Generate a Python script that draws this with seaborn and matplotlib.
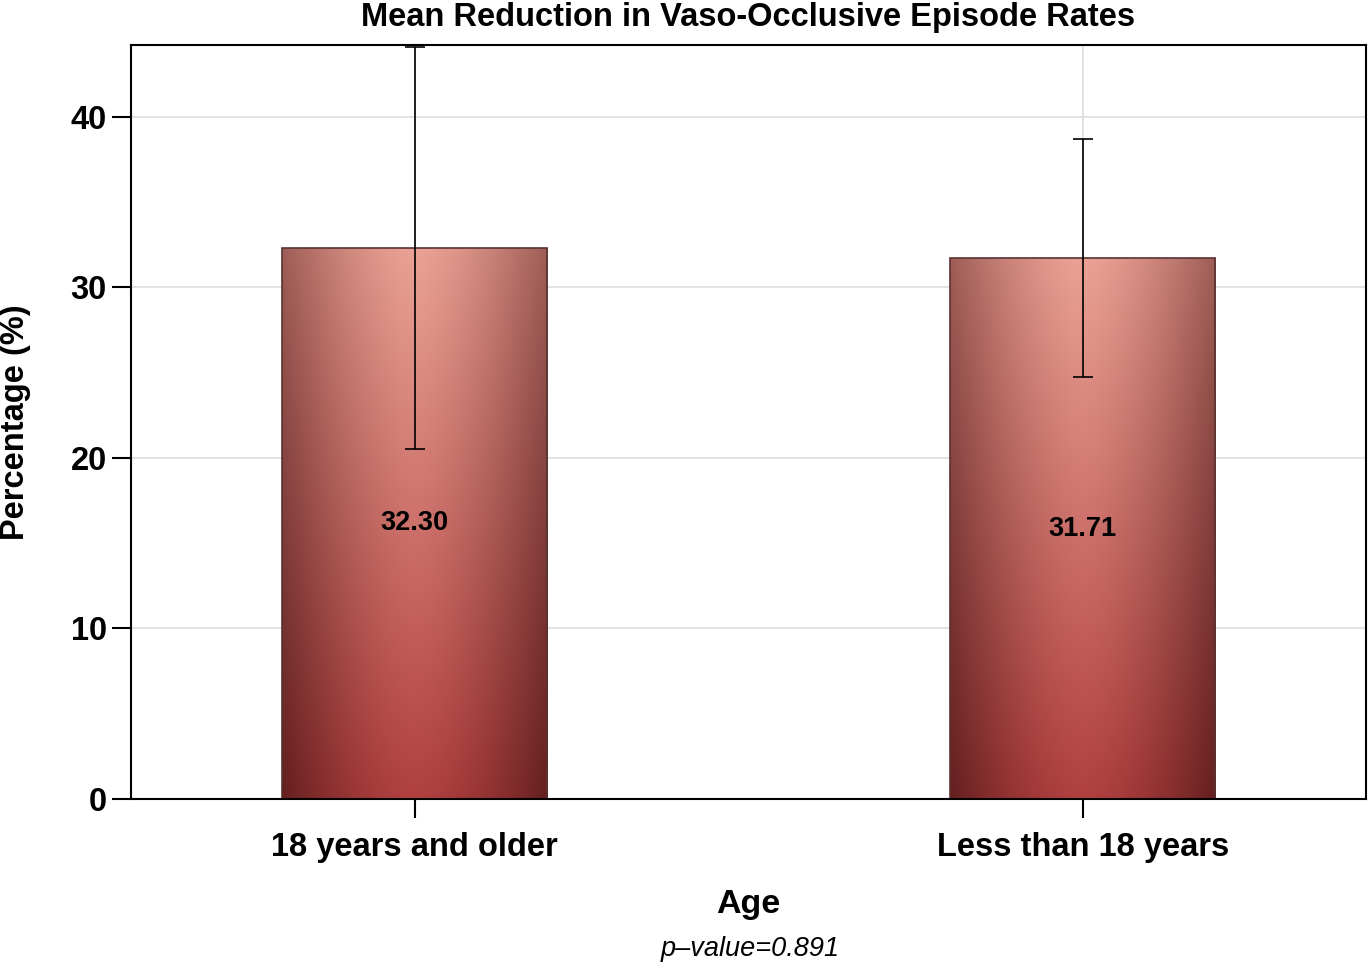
import numpy as np
import pandas as pd
import matplotlib
matplotlib.use("Agg")
import matplotlib.pyplot as plt
import seaborn as sns

# data
groups = ["18 years and older", "Less than 18 years"]
mean_reduction = [32.30, 31.71]
err_lower = [11.8, 7.0]
err_upper = [11.8, 7.0]
p_value_text = "p\u2013value=0.891"

sns.set_style("white")
plt.rcParams["font.family"] = ["Liberation Sans", "DejaVu Sans"]
plt.rcParams["text.color"] = "black"
plt.rcParams["axes.labelcolor"] = "black"
plt.rcParams["xtick.color"] = "black"
plt.rcParams["ytick.color"] = "black"

df = pd.DataFrame({"Age": groups, "Percentage": mean_reduction})

fig = plt.figure(figsize=(13.69, 9.64), dpi=100)
ax = fig.add_axes([131 / 1369, 1 - 799 / 964, 1235 / 1369, 754 / 964])

sns.barplot(data=df, x="Age", y="Percentage", ax=ax, width=0.397,
            color="#c86060", edgecolor="#5a3232", linewidth=1.2, errorbar=None, zorder=2)

# gradient fill for the bars: lighter at the top, darker towards the sides
ny, nx = 200, 200
yy = np.linspace(0, 1, ny)[:, None]          # 0 = bottom, 1 = top
xx = np.linspace(-1, 1, nx)[None, :]
top_col = np.array([234, 162, 150]) / 255
bot_col = np.array([176, 64, 64]) / 255
base = bot_col[None, None, :] + (top_col - bot_col)[None, None, :] * yy[..., None]
shade = 1 - 0.33 * np.abs(xx) ** 1.5 - 0.1 * (1 - yy) * np.abs(xx) ** 2
grad = base * shade[..., None]
# edges a bit more saturated (less green/blue)
grad[..., 1:] *= (1 - 0.14 * np.abs(xx) ** 1.5)[..., None]
grad = np.clip(grad, 0, 1)

for p in ax.patches:
    x0, y0 = p.get_x(), p.get_y()
    w, h = p.get_width(), p.get_height()
    im = ax.imshow(grad, extent=[x0, x0 + w, y0, y0 + h], origin="lower",
                   aspect="auto", zorder=2.1, interpolation="bilinear")
    im.set_clip_path(p)
    p.set_facecolor("none")
    p.set_zorder(2.2)

ax.errorbar(x=range(len(groups)), y=mean_reduction, yerr=[err_lower, err_upper],
            fmt="none", ecolor="black", elinewidth=1.2, capsize=7.5, capthick=1.2, zorder=3)

for i, v in enumerate(mean_reduction):
    ax.text(i, v / 2, f"{v:.2f}", ha="center", va="center",
            fontsize=19.5, fontweight="bold", color="black", zorder=4)

ax.set_xlim(-0.425, 1.424)
ax.set_ylim(0, 44.2)
ax.set_yticks([0, 10, 20, 30, 40])
ax.grid(True, color="#dddddd", linewidth=1.2, zorder=0)
ax.set_axisbelow(True)
for s in ax.spines.values():
    s.set_visible(True)
    s.set_color("black")
    s.set_linewidth(1.5)

ax.tick_params(axis="both", direction="out", length=13.5, width=1.5, color="black",
               labelsize=23.5, bottom=True, left=True)
ax.tick_params(axis="x", pad=10.5)
ax.tick_params(axis="y", pad=4)
for lab in ax.get_xticklabels() + ax.get_yticklabels():
    lab.set_fontweight("bold")

ax.set_xlabel("Age", fontsize=24.5, fontweight="bold")
ax.xaxis.set_label_coords(0.5, (799 - 904) / 754)
ax.xaxis.label.set_va("center")
ax.set_ylabel("Percentage (%)", fontsize=23.5, fontweight="bold")
ax.yaxis.set_label_coords((16 - 131) / 1235, 0.5)
ax.yaxis.label.set_va("center")
ax.set_title("Mean Reduction in Vaso-Occlusive Episode Rates", fontsize=23.5,
             fontweight="bold", pad=14)

fig.text(750 / 1369, 1 - 949 / 964, p_value_text, ha="center", va="center",
         fontsize=19.5, style="italic")

fig.savefig("out.png", dpi=100)
